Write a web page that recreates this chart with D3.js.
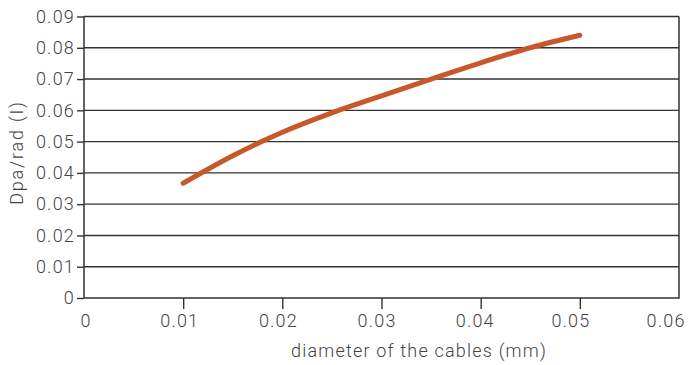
<!DOCTYPE html>
<html>
<head>
<meta charset="utf-8">
<script src="https://cdn.jsdelivr.net/npm/d3@7"></script>
<style>
	body{margin:0;background:#fff;}
	text{font-family:Roboto,"Liberation Sans",sans-serif;font-weight:300;fill:#444;letter-spacing:1.2px;}
</style>
</head>
<body>
<svg id="chart" width="689" height="365"></svg>
<script>
var diameters = [0.01, 0.015, 0.02, 0.025, 0.03, 0.035, 0.04, 0.045, 0.05];
var dpaValues = [0.0367, 0.0455, 0.0530, 0.0592, 0.0646, 0.0700, 0.0752, 0.0800, 0.0840];
var xTicks = [0, 0.01, 0.02, 0.03, 0.04, 0.05, 0.06];
var yTicks = [0, 0.01, 0.02, 0.03, 0.04, 0.05, 0.06, 0.07, 0.08, 0.09];

var Chart = (function(){
	var svg = d3.select("#chart");
	var left = 84, right = 679, top = 16.5, bottom = 298;
	// the x labels sit a little left of their ticks in the original
	var labelNudge = [1, -4.5, -5, -5.5, -6.5, -10, -14];

	var x = d3.scaleLinear().domain([0,0.06]).range([left,right]);
	var y = d3.scaleLinear().domain([0,0.09]).range([bottom,top]);
	var fmt = function(d){return d===0?"0":d3.format(".2f")(d);};

	var render = function(){
		// grid lines
		svg.append("g").selectAll("line")
			.data(yTicks.filter(function(d){return d>0;}))
			.enter().append("line")
			.attr("x1",left).attr("x2",right)
			.attr("y1",function(d){return y(d);})
			.attr("y2",function(d){return y(d);})
			.attr("stroke","#333").attr("stroke-width",1.4);

		// frame
		svg.append("path")
			.attr("d","M"+left+","+top+"V"+bottom+"H"+right+"V"+top)
			.attr("fill","none").attr("stroke","#333").attr("stroke-width",1.5);

		// y axis
		var yAxis = d3.axisLeft(y).tickValues(yTicks).tickFormat(fmt)
			.tickSize(7).tickPadding(2);
		var gy = svg.append("g").attr("transform","translate("+left+",0)").call(yAxis);
		gy.select(".domain").remove();
		gy.selectAll("line").attr("stroke","#333").attr("stroke-width",1.4);
		gy.selectAll("text").attr("font-size","18px").attr("fill","#444");

		// x axis (interior ticks only)
		var xAxis = d3.axisBottom(x).tickValues(xTicks).tickFormat(fmt)
			.tickSize(11).tickPadding(5);
		var gx = svg.append("g").attr("transform","translate(0,"+bottom+")").call(xAxis);
		gx.select(".domain").remove();
		gx.selectAll(".tick line")
			.attr("stroke","#333").attr("stroke-width",1.4)
			.attr("opacity",function(d){return (d===0||d===0.06)?0:1;});
		gx.selectAll("text").attr("font-size","18px").attr("fill","#444")
			.attr("dx",function(d,i){return labelNudge[i]+0.6;});

		// curve
		var line = d3.line()
			.x(function(d,i){return x(diameters[i]);})
			.y(function(d){return y(d);})
			.curve(d3.curveMonotoneX);
		svg.append("path")
			.attr("d",line(dpaValues))
			.attr("fill","none")
			.attr("stroke","#c7582a")
			.attr("stroke-width",5)
			.attr("stroke-linecap","round");

		// axis titles
		svg.append("text")
			.attr("x",419).attr("y",357)
			.attr("text-anchor","middle").attr("font-size","18px")
			.text("diameter of the cables (mm)");
		svg.append("text")
			.attr("transform","translate(23,152.5) rotate(-90)")
			.attr("text-anchor","middle").attr("font-size","18px")
			.style("letter-spacing","1.8px")
			.text("Dpa/rad (I)");
	};
	return {render:render};
})();

Chart.render();
</script>
</body>
</html>
